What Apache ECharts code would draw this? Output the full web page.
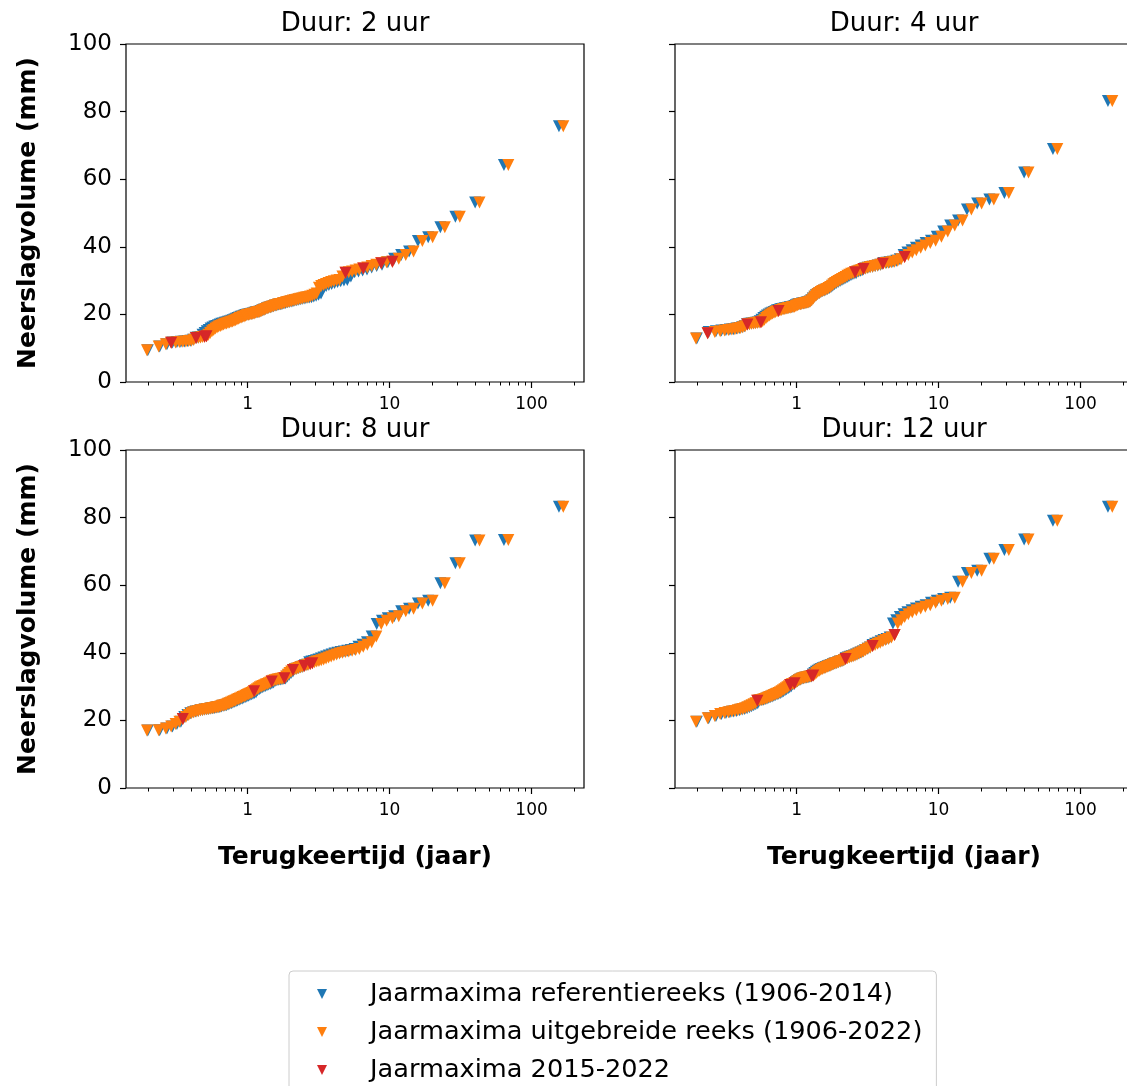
<!DOCTYPE html>
<html>
<head>
<meta charset="utf-8">
<script src="https://cdn.jsdelivr.net/npm/echarts@6/dist/echarts.min.js"></script>
<style>
  html, body { margin: 0; padding: 0; background: #fff; }
  #chart { width: 1127px; height: 1086px; }
</style>
</head>
<body>
<div id="chart"></div>
<script>
// Panel titles (rain duration)
const durations = ['Duur: 2 uur', 'Duur: 4 uur', 'Duur: 8 uur', 'Duur: 12 uur'];
const seriesNames = [
  'Jaarmaxima referentiereeks (1906-2014)',
  'Jaarmaxima uitgebreide reeks (1906-2022)',
  'Jaarmaxima 2015-2022'
];

// Annual maxima (mm), reference series 1906-2014, sorted ascending
const ref2h = [9.4,10.5,11.2,11.7,11.8,11.9,12.0,12.1,12.2,12.5,
  13.1,13.2,13.3,14.0,14.5,15.0,15.4,15.8,16.1,16.4,
  16.6,16.8,17.0,17.2,17.3,17.5,17.6,17.8,17.9,18.1,
  18.3,18.5,18.7,18.9,19.1,19.3,19.4,19.6,19.8,19.9,
  20.0,20.1,20.2,20.3,20.5,20.6,20.7,20.8,21.0,21.2,
  21.4,21.6,21.8,22.0,22.1,22.3,22.4,22.6,22.7,22.9,
  23.0,23.1,23.3,23.4,23.6,23.7,23.8,23.9,24.1,24.2,
  24.3,24.5,24.6,24.7,24.9,25.0,25.1,25.3,25.5,25.8,
  26.2,27.9,28.4,28.7,29.0,29.3,29.6,29.8,30.0,30.2,
  31.2,32.5,32.7,33.0,33.3,33.9,34.3,34.7,35.4,36.5,
  37.6,38.6,41.7,42.8,45.8,48.9,53.1,64.2,75.7];
const ref4h = [12.9,14.8,15.0,15.2,15.4,15.5,15.6,15.8,16.0,16.2,
  16.5,17.1,17.2,17.3,17.4,17.5,17.6,18.0,18.4,18.9,
  19.3,19.7,20.0,20.3,20.5,20.7,20.9,21.2,21.3,21.5,
  21.6,21.7,21.8,21.9,22.0,22.1,22.2,22.3,22.5,22.7,
  22.9,23.0,23.1,23.2,23.3,23.4,23.5,23.6,23.8,24.2,
  24.7,25.2,25.7,26.0,26.3,26.6,26.9,27.1,27.3,27.5,
  27.8,28.1,28.5,28.9,29.3,29.6,29.9,30.2,30.5,30.8,
  31.1,31.4,31.7,32.0,32.2,32.7,32.9,33.1,33.6,33.8,
  34.0,34.1,34.3,34.5,34.7,35.2,35.3,35.4,35.6,35.9,
  36.3,37.6,38.3,39.0,39.7,40.4,41.1,41.8,43.0,44.5,
  46.3,47.8,51.0,52.8,54.0,55.9,62.0,68.9,83.1];
const ref8h = [17.0,17.1,17.6,18.2,18.9,19.6,
  21.0,21.6,22.1,22.4,22.6,22.8,23.0,23.1,23.2,23.3,
  23.4,23.5,23.6,23.7,23.8,23.9,24.0,24.1,24.3,24.4,
  24.5,24.7,24.9,25.1,25.3,25.5,25.7,25.9,26.1,26.3,
  26.5,26.7,26.9,27.1,27.3,27.5,27.7,27.9,28.1,28.3,
  28.9,29.2,29.5,29.8,30.0,30.2,30.4,30.6,30.8,31.0,31.2,
  31.7,31.9,32.0,32.1,32.2,32.3,32.4,
  33.0,33.5,34.0,34.5,
  35.1,35.3,35.5,35.7,35.9,
  36.3,36.5,
  37.2,37.4,37.6,37.8,38.0,38.3,38.6,38.9,39.2,39.5,
  39.8,40.0,40.2,40.4,40.6,40.8,41.1,41.8,42.4,43.1,
  44.8,48.5,49.5,50.2,50.8,52.3,53.0,54.6,55.4,60.6,
  66.5,73.2,73.4,83.2];
const ref12h = [19.6,20.6,21.3,21.9,22.2,22.4,22.6,22.8,23.0,23.2,
  23.4,23.6,23.9,24.2,24.5,24.8,25.1,
  25.9,26.0,26.1,26.3,26.5,26.7,26.9,27.1,27.3,27.5,
  27.7,27.9,28.1,28.3,28.6,28.9,29.2,29.5,29.8,30.1,
  30.7,30.8,
  31.3,31.6,31.9,32.1,32.3,32.5,32.6,32.7,32.8,32.9,33.0,
  33.6,34.0,34.4,34.7,35.0,35.2,35.4,35.6,35.8,36.0,
  36.2,36.4,36.6,36.8,37.0,37.2,37.4,37.6,37.8,
  38.4,38.6,38.8,39.0,39.2,39.5,39.8,40.1,40.4,40.8,41.2,41.6,
  42.3,42.7,43.0,43.4,43.8,44.1,44.5,
  48.7,49.6,50.6,51.4,52.0,52.6,53.1,53.6,54.1,54.8,
  55.4,55.9,56.3,61.0,63.6,64.3,67.8,70.4,73.5,79.1,83.2];

// Annual maxima (mm) of the added years 2015-2022
const new2h = [11.6, 13.0, 13.4, 13.5, 32.3, 33.6, 35.1, 35.6];
const new4h = [14.4, 17.0, 17.7, 21.0, 32.5, 33.4, 35.0, 37.0];
const new8h = [20.4, 28.6, 31.5, 32.5, 34.9, 36.1, 36.7, 36.9];
const new12h = [25.8, 30.5, 31.0, 33.1, 33.3, 38.2, 42.0, 45.3];

// Axis ticks
const xMajorTicks = [1, 10, 100];
const xMinorTicks = [0.2, 0.3, 0.4, 0.5, 0.6, 0.7, 0.8, 0.9, 2, 3, 4, 5, 6, 7, 8, 9,
  20, 30, 40, 50, 60, 70, 80, 90, 200];
const yTickStep = 20;
const yMin = 0, yMax = 100;
const xMin = 0.139, xMax = 234;

// ---- styling / layout ----
const FONT = 'DejaVu Sans';
const COLORS = ['#1f77b4', '#ff7f0e', '#d62728'];
const TRI = 'path://M0,0L2,0L1,2Z';
const W = 458, H = 338;
const panels = [
  { title: durations[0], ref: ref2h, add: new2h, left: 126, top: 44, yLab: true, xName: false },
  { title: durations[1], ref: ref4h, add: new4h, left: 675, top: 44, yLab: false, xName: false },
  { title: durations[2], ref: ref8h, add: new8h, left: 126, top: 450, yLab: true, xName: true },
  { title: durations[3], ref: ref12h, add: new12h, left: 675, top: 450, yLab: false, xName: true }
];

// Return period (years) of the i-th smallest of n annual maxima:
// plotting position F = (i - 0.3) / (n + 0.4), T = -1 / ln(F)
function returnPeriod(i, n) {
  return -1 / Math.log((i - 0.3) / (n + 0.4));
}
function toPoints(sorted) {
  return sorted.map((v, k) => [returnPeriod(k + 1, sorted.length), v]);
}

const grid = [], xAxis = [], yAxis = [], series = [], title = [];
panels.forEach((p, k) => {
  grid.push({ left: p.left, top: p.top, width: W, height: H, show: true,
    borderColor: '#000', borderWidth: 1.2, backgroundColor: 'transparent',
    containLabel: false, outerBoundsMode: 'none' });
  title.push({ text: p.title, left: p.left + W / 2, top: p.top - 33, textAlign: 'center', padding: 0,
    textStyle: { fontFamily: FONT, fontSize: 26, fontWeight: 'normal', color: '#000' } });

  // major ticks with labels
  xAxis.push({
    type: 'log', logBase: 10, gridIndex: k, min: xMin, max: xMax, position: 'bottom',
    axisLine: { show: false }, splitLine: { show: false },
    axisTick: { show: true, length: 6, customValues: xMajorTicks, lineStyle: { color: '#000', width: 1.2 } },
    axisLabel: { show: true, customValues: xMajorTicks, margin: 14,
      formatter: v => String(Math.round(v)),
      fontFamily: FONT, fontSize: 17, color: '#000' },
    name: p.xName ? 'Terugkeertijd (jaar)' : '', nameLocation: 'middle', nameGap: 57,
    nameTextStyle: { fontFamily: FONT, fontSize: 25, fontWeight: 'bold', color: '#000' }
  });
  // minor ticks
  xAxis.push({
    type: 'log', logBase: 10, gridIndex: k, min: xMin, max: xMax, position: 'bottom', offset: 0,
    axisLine: { show: false }, splitLine: { show: false }, axisLabel: { show: false },
    axisTick: { show: true, length: 3.5, customValues: xMinorTicks, lineStyle: { color: '#000', width: 1 } }
  });
  yAxis.push({
    type: 'value', gridIndex: k, min: yMin, max: yMax, interval: yTickStep, position: 'left',
    axisLine: { show: false }, splitLine: { show: false },
    axisTick: { show: true, length: 6, lineStyle: { color: '#000', width: 1.2 } },
    axisLabel: { show: p.yLab, margin: 14, fontFamily: FONT, fontSize: 23, color: '#000' },
    name: p.yLab ? 'Neerslagvolume (mm)' : '', nameLocation: 'middle', nameGap: 85,
    nameTextStyle: { fontFamily: FONT, fontSize: 25, fontWeight: 'bold', color: '#000' }
  });

  const extended = p.ref.concat(p.add).slice().sort((a, b) => a - b);
  const nExt = extended.length;
  const addedPts = p.add.map(v => [returnPeriod(extended.indexOf(v) + 1, nExt), v]);
  const sets = [toPoints(p.ref), toPoints(extended), addedPts];
  sets.forEach((pts, s) => {
    series.push({
      type: 'scatter', name: seriesNames[s], xAxisIndex: 2 * k, yAxisIndex: k,
      data: pts, symbol: TRI, symbolSize: [12, 12], z: 2 + s,
      itemStyle: { color: COLORS[s], opacity: 1 }, silent: true,
      emphasis: { disabled: true }
    });
  });
});

const chart = echarts.init(document.getElementById('chart'), null, { renderer: 'canvas' });
chart.setOption({
  backgroundColor: '#fff',
  animation: false,
  title, grid, xAxis, yAxis, series,
  legend: {
    orient: 'vertical', left: 289, top: 971, height: 200,
    padding: [10, 14, 10, 28], itemWidth: 12, itemHeight: 10, itemGap: 12,
    backgroundColor: '#fff', borderColor: '#cccccc', borderWidth: 1, borderRadius: 4,
    selectedMode: false,
    textStyle: { fontFamily: FONT, fontSize: 25.6, color: '#000', lineHeight: 24, padding: [0, 0, 0, 37] },
    data: seriesNames.map((n, i) => ({ name: n, icon: TRI, itemStyle: { color: COLORS[i] } }))
  }
});
</script>
</body>
</html>
